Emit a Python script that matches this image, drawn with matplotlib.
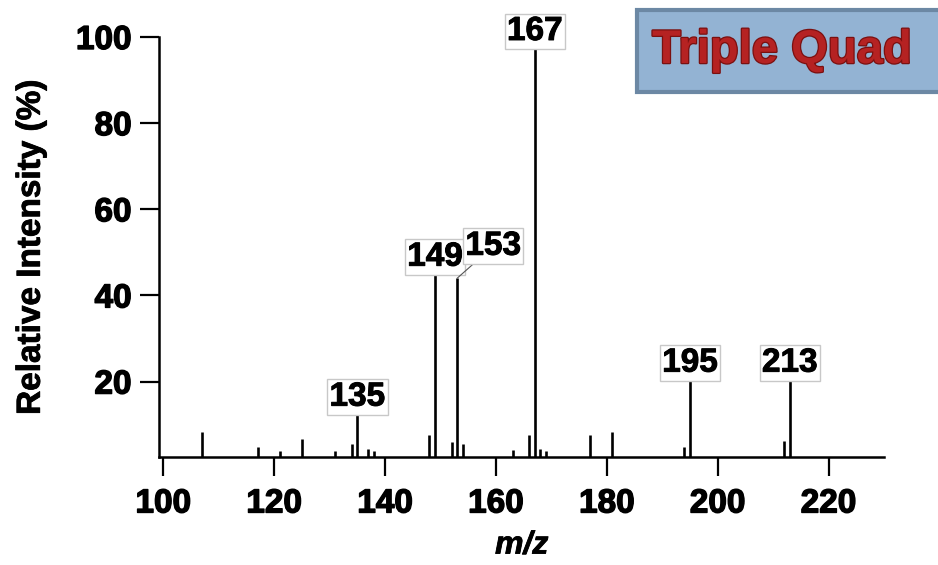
import matplotlib
matplotlib.use("Agg")
import matplotlib.pyplot as plt
from matplotlib.patches import Rectangle
import matplotlib.patheffects as pe

plt.rcParams['font.family'] = ['Liberation Sans', 'DejaVu Sans']

# Data
mz = [107, 117, 121, 125, 131, 134, 135, 137, 138, 148, 149, 152, 153, 154,
      163, 166, 167, 168, 169, 177, 181, 194, 195, 212, 213]
intensity = [8.4, 4.8, 3.8, 6.6, 3.9, 5.5, 12.3, 4.4, 3.9, 7.5, 44.8, 5.9, 44.0, 5.5,
             4.2, 7.6, 97.2, 4.3, 3.9, 7.5, 8.4, 4.9, 20.2, 6.1, 20.2]
labeled_peaks = [135, 149, 153, 167, 195, 213]
x_ticks = [100, 120, 140, 160, 180, 200, 220]
y_ticks = [20, 40, 60, 80, 100]

fig = plt.figure(figsize=(9.38, 5.65), dpi=100)
ax = fig.add_axes([0.170, 0.192, 0.7725, 0.7425])

ax.vlines(mz, 0, intensity, colors='black', linewidth=1.9, zorder=2)

ax.set_xlim(99.3, 230.0)
ax.set_ylim(2.6, 100)
ax.set_xticks(x_ticks)
ax.set_yticks(y_ticks)

for s in ['top', 'right']:
    ax.spines[s].set_visible(False)
for s in ['left', 'bottom']:
    ax.spines[s].set_linewidth(1.8)

bold_fx = [pe.withStroke(linewidth=1.0, foreground='black')]

ax.tick_params(axis='both', direction='out', length=14, width=1.6, labelsize=24)
ax.tick_params(axis='x', pad=9)
ax.tick_params(axis='y', pad=6)
for lab in ax.get_xticklabels() + ax.get_yticklabels():
    lab.set_fontweight('bold')
    lab.set_path_effects(bold_fx)

ax.set_ylabel('Relative Intensity (%)', fontsize=24, fontweight='bold', labelpad=21,
              path_effects=[pe.withStroke(linewidth=0.6, foreground='black')])
ax.set_xlabel('m/z', fontsize=23, fontweight='bold', style='italic', labelpad=8,
              path_effects=[pe.withStroke(linewidth=0.6, foreground='black')])

box = dict(boxstyle='square,pad=0.07', facecolor='white', edgecolor='#c8c8c8', linewidth=1)
lookup = dict(zip(mz, intensity))
for p in labeled_peaks:
    v = lookup[p]
    if p == 153:
        ax.annotate(str(p), xy=(p, v), xytext=(26, 23), textcoords='offset points',
                    ha='center', va='center', fontsize=24, fontweight='bold',
                    bbox=box, zorder=5,
                    path_effects=[pe.withStroke(linewidth=0.7, foreground='black')],
                    arrowprops=dict(arrowstyle='-', color='#555555', linewidth=0.8,
                                    shrinkA=0, shrinkB=0))
    else:
        ax.annotate(str(p), xy=(p, v), xytext=(0, 1.5), textcoords='offset points',
                    ha='center', va='bottom', fontsize=24, fontweight='bold',
                    bbox=box, zorder=5,
                    path_effects=[pe.withStroke(linewidth=0.7, foreground='black')])

# "Triple Quad" badge
rect = Rectangle((637 / 938, 1 - 92 / 565), 0.35, 82 / 565, transform=fig.transFigure,
                 facecolor='#93b3d3', edgecolor='#6c88a4', linewidth=3, zorder=10)
fig.patches.append(rect)
fig.text(782 / 938, 1 - 51 / 565, 'Triple Quad', fontsize=34, fontweight='bold',
         color='#b52222', ha='center', va='center', zorder=11,
         path_effects=[pe.withStroke(linewidth=1.8, foreground='#7a1010')])

fig.savefig('out.png', dpi=100)
